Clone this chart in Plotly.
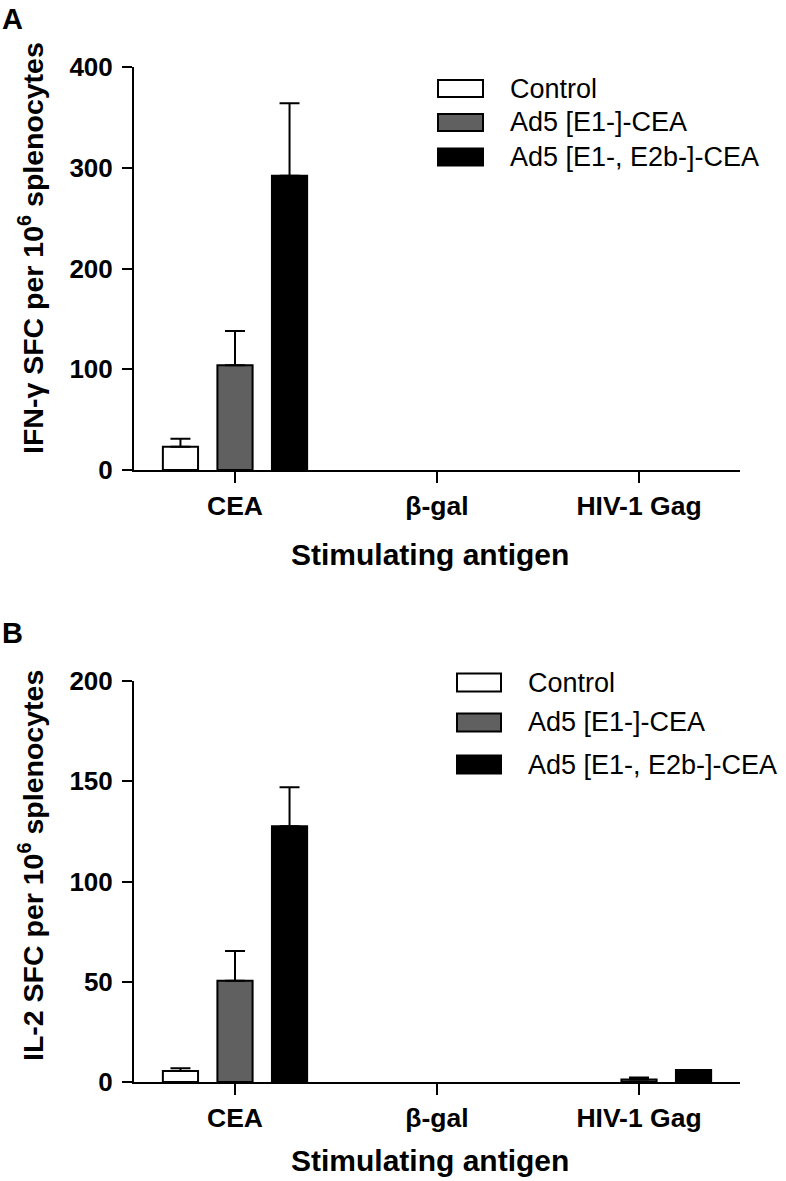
import plotly.graph_objects as go

# ---------------- data ----------------
categories = ["CEA", "β-gal", "HIV-1 Gag"]
series_names = ["Control", "Ad5 [E1-]-CEA", "Ad5 [E1-, E2b-]-CEA"]

# Panel A: IFN-gamma SFC per 10^6 splenocytes
ifn_control = [23, 0, 0]
ifn_control_err = [8, 0, 0]
ifn_e1 = [104, 0, 0]
ifn_e1_err = [34, 0, 0]
ifn_e1e2b = [292, 0, 0]
ifn_e1e2b_err = [72, 0, 0]

# Panel B: IL-2 SFC per 10^6 splenocytes
il2_control = [5.5, 0, 0]
il2_control_err = [1.3, 0, 0]
il2_e1 = [50.5, 0, 1.2]
il2_e1_err = [14.8, 0, 1.0]
il2_e1e2b = [127.5, 0, 6]
il2_e1e2b_err = [19.5, 0, 0]

ifn_ticks = [0, 100, 200, 300, 400]
il2_ticks = [0, 50, 100, 150, 200]

# ---------------- styles ----------------
W, H = 786, 1181
FONT = "Liberation Sans, Arial, Helvetica, sans-serif"
fills = ["#ffffff", "#606060", "#000000"]


def px_x(x):
    return x / W


def px_y(y):
    return 1 - y / H


def hide_zero(vals):
    # zero-valued bars are not drawn in the reference
    return [v if v else None for v in vals]


fig = go.Figure()

panelA = [(ifn_control, ifn_control_err), (ifn_e1, ifn_e1_err), (ifn_e1e2b, ifn_e1e2b_err)]
panelB = [(il2_control, il2_control_err), (il2_e1, il2_e1_err), (il2_e1e2b, il2_e1e2b_err)]

for panel, (xa, ya) in ((panelA, ("x", "y")), (panelB, ("x2", "y2"))):
    for (vals, errs), name, fill in zip(panel, series_names, fills):
        fig.add_trace(go.Bar(
            x=categories, y=hide_zero(vals), name=name, xaxis=xa, yaxis=ya,
            marker=dict(color=fill, line=dict(color="black", width=2)),
            error_y=dict(type="data", symmetric=False, array=hide_zero(errs),
                         arrayminus=[0 if e else None for e in errs],
                         color="black", thickness=2, width=10),
            showlegend=False, hoverinfo="skip",
        ))

xdom = [px_x(134), px_x(740)]
axis_common = dict(showline=True, linewidth=2, linecolor="black", ticks="outside",
                   tickwidth=2, tickcolor="black", showgrid=False, zeroline=False,
                   automargin=False, fixedrange=True)
xtick_font = dict(family=FONT, size=26.5, color="black", weight="bold")
ytick_font = dict(family=FONT, size=26, color="black", weight="bold")

fig.update_layout(
    template="none",
    width=W, height=H, margin=dict(l=0, r=0, t=0, b=0, pad=0, autoexpand=False),
    paper_bgcolor="white", plot_bgcolor="white",
    barmode="group", bargap=0.19, bargroupgap=0.355,
    font=dict(family=FONT, color="black"),
    showlegend=False,
    xaxis=dict(domain=xdom, anchor="y", type="category", range=[-0.5, 2.5],
               ticklen=11, ticklabelstandoff=0, tickfont=xtick_font, **axis_common),
    yaxis=dict(domain=[px_y(470), px_y(67)], anchor="x", range=[0, 400],
               tickvals=ifn_ticks, ticklen=10, ticklabelstandoff=4, tickfont=ytick_font,
               **axis_common),
    xaxis2=dict(domain=xdom, anchor="y2", type="category", range=[-0.5, 2.5],
                ticklen=11, ticklabelstandoff=0, tickfont=xtick_font, **axis_common),
    yaxis2=dict(domain=[px_y(1082), px_y(681)], anchor="x2", range=[0, 200],
                tickvals=il2_ticks, ticklen=10, ticklabelstandoff=4, tickfont=ytick_font,
                **axis_common),
)

ann = []
shapes = []

# panel letters
for letter, yc in (("A", 19), ("B", 633)):
    ann.append(dict(text=f"<b>{letter}</b>", x=px_x(0), y=px_y(yc), xref="paper", yref="paper",
                    xanchor="left", yanchor="middle", showarrow=False,
                    font=dict(family=FONT, size=29, color="black")))

# axis titles
for ytxt, xc, yc in (("<b>IFN-γ SFC per 10<sup>6</sup> splenocytes</b>", 31, 248),
                     ("<b>IL-2 SFC per 10<sup>6</sup> splenocytes</b>", 31, 866)):
    ann.append(dict(text=ytxt, x=px_x(xc), y=px_y(yc), xref="paper", yref="paper",
                    xanchor="center", yanchor="middle", textangle=-90, showarrow=False,
                    font=dict(family=FONT, size=28.5, color="black")))
for yc in (555, 1160):
    ann.append(dict(text="<b>Stimulating antigen</b>", x=px_x(430), y=px_y(yc),
                    xref="paper", yref="paper", xanchor="center", yanchor="middle",
                    showarrow=False, font=dict(family=FONT, size=30, color="black")))

# manual legends
legend_layouts = [
    dict(box_x=(438, 483), text_x=508, rows=[88.5, 122.5, 157], box_h=17),
    dict(box_x=(457, 501), text_x=526, rows=[682.5, 722.5, 764.5], box_h=18),
]
for lay in legend_layouts:
    for name, fill, yc in zip(series_names, fills, lay["rows"]):
        shapes.append(dict(type="rect", xref="paper", yref="paper",
                           x0=px_x(lay["box_x"][0]), x1=px_x(lay["box_x"][1]),
                           y0=px_y(yc + lay["box_h"] / 2), y1=px_y(yc - lay["box_h"] / 2),
                           fillcolor=fill, line=dict(color="black", width=2)))
        ann.append(dict(text=name, x=px_x(lay["text_x"]), y=px_y(yc), xref="paper", yref="paper",
                        xanchor="left", yanchor="middle", showarrow=False,
                        font=dict(family=FONT, size=27, color="black")))

fig.update_layout(annotations=ann, shapes=shapes)

fig.write_html("out.html", config={"displayModeBar": False},
               post_script="document.body.style.margin='0px';document.body.style.overflow='hidden';")
